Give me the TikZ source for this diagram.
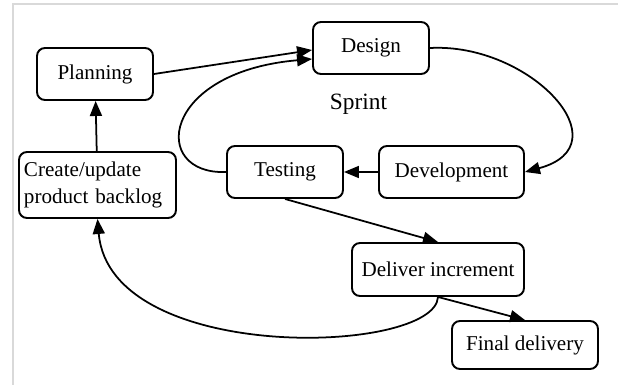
\documentclass[tikz,border=0pt]{standalone}
\usepackage{fontspec}
\setmainfont{Liberation Serif}
\usepackage{tikz}
\usetikzlibrary{positioning,arrows.meta}
\definecolor{framegray}{HTML}{D9D9D9}
\tikzset{
  stage/.style={draw=black, line width=1.1pt, rounded corners=0.16cm, minimum width=2.32cm, minimum height=1.04cm, inner sep=0.1cm, font=\fontsize{12}{15.4}\selectfont},
  edge/.style={-{Triangle[length=0.3cm, width=0.24cm]}, line width=1pt},
  frameline/.style={draw=framegray, line width=0.04cm},
}

\begin{document}
\begin{tikzpicture}[font=\fontsize{12}{15.4}\selectfont]
        \useasboundingbox (0,0) rectangle (12.36,7.7);
        \draw[frameline] (12.36,7.62) -- (0.25,7.62) -- (0.25,0);
        \node[stage] (plan)   at (1.90,6.22) {Planning};
        \node[stage] (design) at (7.42,6.74) {Design};
        \node[font=\fontsize{13.3}{16}\selectfont] (sprint) at (7.17,5.62) {Sprint};
        \node[stage] (test)   at (5.70,4.26) {Testing};
        \node[stage, minimum width=2.90cm] (dev) at (9.03,4.26) {Development};
        \node[stage, minimum height=1.32cm, text width=2.94cm, align=left] (backlog) at (1.95,4.0) {Create/update\\product backlog};
        \node[stage, minimum width=3.44cm, minimum height=1.06cm] (incr)  at (8.76,2.31) {Deliver increment};
        \node[stage, minimum width=2.92cm, minimum height=0.96cm] (final) at (10.50,0.80) {Final delivery};
        \draw[edge] (plan.east) -- ([yshift=-0.04cm]design.west);
        \draw[edge] (test.west) .. controls (3.0,4.2) and (3.2,6.26) .. ([yshift=-0.22cm]design.west);
        \draw[edge] (design.east) .. controls (10.6,6.85) and (12.5,4.8) .. (dev.east);
        \draw[edge] (dev) -- (test);
        \draw[edge] (backlog) -- (plan);
        \draw[edge] (test.south) -- (incr.north);
        \draw[edge] (incr.south) -- (final.north);
        \draw[edge] (incr.south) .. controls (8.7,0.6) and (2.2,0.4) .. (backlog.south);
      \end{tikzpicture}
\end{document}
